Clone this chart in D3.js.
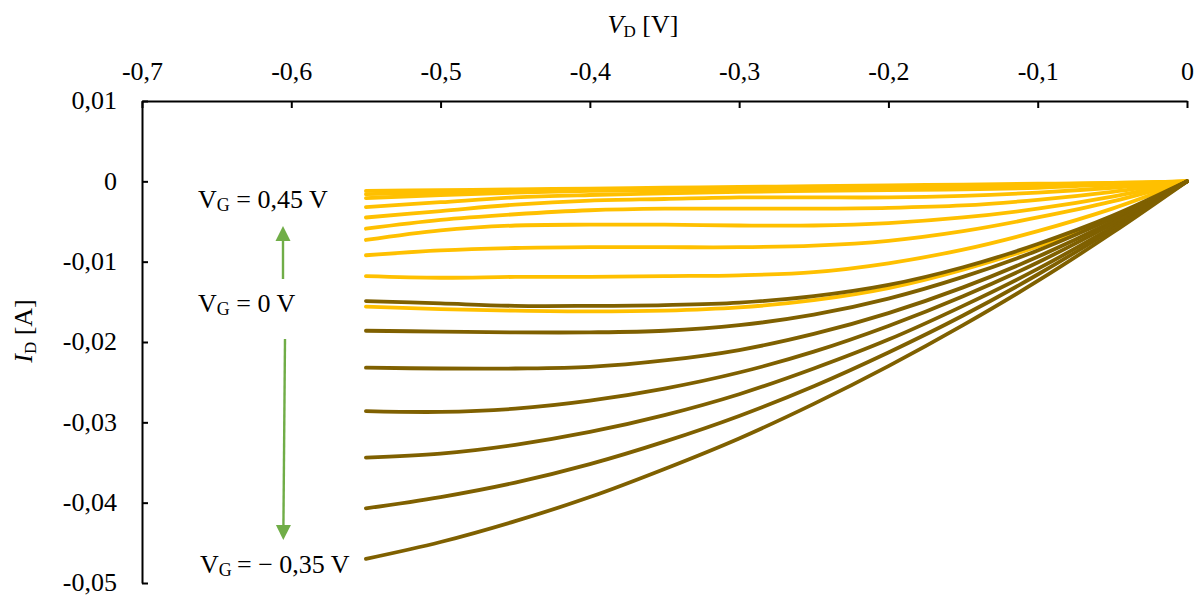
<!DOCTYPE html>
<html>
<head>
<meta charset="utf-8">
<script src="https://cdn.jsdelivr.net/npm/d3@7"></script>
<style>
  body { margin: 0; background: #fff; }
  svg { display: block; }
  text { font-family: "Liberation Serif", "Times New Roman", serif; fill: #000; }
</style>
</head>
<body>
<svg id="chart" width="1200" height="596"></svg>
<script>
// Drain voltage sweep (V)
const vd = [-0.55, -0.5, -0.45, -0.4, -0.35, -0.3, -0.25, -0.2, -0.15, -0.1, -0.05, 0];

// Drain current (A) for each gate voltage, same order as vd
const id_vg045 = [-0.0012, -0.0011, -0.0010, -0.0009, -0.0008, -0.0007, -0.0006, -0.0005, -0.0004, -0.0003, -0.0002, 0];
const id_vg040 = [-0.0016, -0.0014, -0.0012, -0.0011, -0.0010, -0.0009, -0.0008, -0.0007, -0.0006, -0.0004, -0.0002, 0];
const id_vg035 = [-0.0021, -0.0017, -0.0014, -0.0012, -0.0011, -0.0010, -0.0009, -0.0008, -0.0007, -0.0005, -0.0003, 0];
const id_vg030 = [-0.0032, -0.0026, -0.0020, -0.0017, -0.0015, -0.0013, -0.0012, -0.0011, -0.0010, -0.0008, -0.0004, 0];
const id_vg025 = [-0.0045, -0.0037, -0.0029, -0.0024, -0.0022, -0.0020, -0.0020, -0.0020, -0.0018, -0.0014, -0.0008, 0];
const id_vg020 = [-0.0059, -0.0048, -0.0041, -0.0036, -0.0034, -0.0034, -0.0034, -0.0033, -0.0030, -0.0023, -0.0013, 0];
const id_vg015 = [-0.0073, -0.0061, -0.0055, -0.0054, -0.0054, -0.0055, -0.0055, -0.0052, -0.0045, -0.0034, -0.0019, 0];
const id_vg010 = [-0.0092, -0.0086, -0.0083, -0.0082, -0.0082, -0.0082, -0.0080, -0.0074, -0.0062, -0.0045, -0.0025, 0];
const id_vg005 = [-0.0118, -0.0120, -0.0119, -0.0119, -0.0118, -0.0117, -0.0113, -0.0102, -0.0085, -0.0062, -0.0034, 0];
const id_vg000 = [-0.0156, -0.0159, -0.0161, -0.0162, -0.0161, -0.0157, -0.0148, -0.0133, -0.0110, -0.0081, -0.0044, 0];
const id_vgm005 = [-0.0149, -0.0152, -0.0155, -0.0155, -0.0154, -0.0151, -0.0143, -0.0129, -0.0107, -0.0078, -0.0043, 0];
const id_vgm010 = [-0.0186, -0.0187, -0.0188, -0.0188, -0.0186, -0.0179, -0.0166, -0.0146, -0.0119, -0.0086, -0.0046, 0];
const id_vgm015 = [-0.0232, -0.0233, -0.0233, -0.0231, -0.0223, -0.0210, -0.0190, -0.0164, -0.0132, -0.0094, -0.0050, 0];
const id_vgm020 = [-0.0286, -0.0287, -0.0283, -0.0273, -0.0258, -0.0238, -0.0212, -0.0180, -0.0143, -0.0101, -0.0053, 0];
const id_vgm025 = [-0.0344, -0.0339, -0.0328, -0.0312, -0.0291, -0.0265, -0.0233, -0.0197, -0.0155, -0.0109, -0.0057, 0];
const id_vgm030 = [-0.0407, -0.0393, -0.0375, -0.0352, -0.0324, -0.0292, -0.0255, -0.0213, -0.0167, -0.0116, -0.0060, 0];
const id_vgm035 = [-0.0470, -0.0449, -0.0423, -0.0393, -0.0358, -0.0320, -0.0277, -0.0230, -0.0179, -0.0124, -0.0064, 0];

// Gate voltages >= 0 V (light) and < 0 V (dark)
const positiveGate = [id_vg045, id_vg040, id_vg035, id_vg030, id_vg025, id_vg020, id_vg015, id_vg010, id_vg005, id_vg000];
const negativeGate = [id_vgm005, id_vgm010, id_vgm015, id_vgm020, id_vgm025, id_vgm030, id_vgm035];

const xTicks = [-0.7, -0.6, -0.5, -0.4, -0.3, -0.2, -0.1, 0];
const yTicks = [0.01, 0, -0.01, -0.02, -0.03, -0.04, -0.05];

const svg = d3.select("#chart");
const plotLeft = 142, plotRight = 1187, plotTop = 101, plotBottom = 583;

const x = d3.scaleLinear().domain([-0.7, 0]).range([plotLeft, plotRight]);
const y = d3.scaleLinear().domain([0.01, -0.05]).range([plotTop, plotBottom]);

const fmt = d => d === 0 ? "0" : String(d).replace(".", ",");

// Top axis (drain voltage)
const gx = svg.append("g")
  .attr("transform", `translate(0,${plotTop})`)
  .call(d3.axisTop(x).tickValues(xTicks).tickFormat(fmt)
    .tickSizeInner(-7).tickSizeOuter(0).tickPadding(21));

// Left axis (drain current)
const gy = svg.append("g")
  .attr("transform", `translate(${plotLeft},0)`)
  .call(d3.axisLeft(y).tickValues(yTicks).tickFormat(fmt)
    .tickSizeInner(-6).tickSizeOuter(0).tickPadding(25));

[gx, gy].forEach(g => {
  g.select(".domain").attr("stroke", "#000").attr("stroke-width", 2);
  g.selectAll(".tick line").attr("stroke", "#000").attr("stroke-width", 2);
  g.selectAll(".tick text")
    .attr("font-family", "'Liberation Serif', 'Times New Roman', serif")
    .attr("font-size", 26).attr("fill", "#000");
});
gy.selectAll(".tick text").attr("dy", "0.3em");

// Output characteristic curves
const line = d3.line()
  .x((d, i) => x(vd[i]))
  .y(d => y(d))
  .curve(d3.curveCatmullRom.alpha(0.5));

const curves = svg.append("g").attr("fill", "none")
  .attr("stroke-width", 3.8).attr("stroke-linecap", "round").attr("stroke-linejoin", "round");

curves.selectAll("path.pos").data(positiveGate).join("path")
  .attr("class", "pos").attr("stroke", "#FFC000").attr("d", line);

curves.selectAll("path.neg").data(negativeGate).join("path")
  .attr("class", "neg").attr("stroke", "#7F6000").attr("d", line);

// Axis titles
const xTitle = svg.append("text").attr("x", 643).attr("y", 33)
  .attr("text-anchor", "middle").attr("font-size", 26);
xTitle.append("tspan").attr("font-style", "italic").text("V");
xTitle.append("tspan").attr("font-size", 17).attr("dy", 4).text("D");
xTitle.append("tspan").attr("dy", -4).text(" [V]");

const yTitle = svg.append("text")
  .attr("transform", "translate(32,331) rotate(-90)")
  .attr("text-anchor", "middle").attr("font-size", 26);
yTitle.append("tspan").attr("font-style", "italic").text("I");
yTitle.append("tspan").attr("font-size", 17).attr("dy", 4).text("D");
yTitle.append("tspan").attr("dy", -4).text(" [A]");

// Gate voltage annotations
function gateLabel(xp, yp, rest) {
  const t = svg.append("text").attr("x", xp).attr("y", yp).attr("font-size", 26);
  t.append("tspan").text("V");
  t.append("tspan").attr("font-size", 18).attr("dy", 3).text("G");
  t.append("tspan").attr("dy", -3).text(rest);
}
gateLabel(198, 208, " = 0,45 V");
gateLabel(198, 311.5, " = 0 V");
gateLabel(200, 572.5, "\u2009= \u2212 0,35 V");

// Arrows showing increasing / decreasing gate voltage
const green = "#70AD47";
function arrow(x1, y1, x2, y2) {
  const ang = Math.atan2(y2 - y1, x2 - x1);
  const headLen = 15, headHalf = 7.5;
  const bx = x2 - headLen * Math.cos(ang), by = y2 - headLen * Math.sin(ang);
  svg.append("line").attr("x1", x1).attr("y1", y1).attr("x2", bx).attr("y2", by)
    .attr("stroke", green).attr("stroke-width", 2.4);
  const px = -Math.sin(ang) * headHalf, py = Math.cos(ang) * headHalf;
  svg.append("path")
    .attr("d", `M${x2},${y2}L${bx + px},${by + py}L${bx - px},${by - py}Z`)
    .attr("fill", green);
}
arrow(283, 279, 283, 226);
arrow(285, 339, 283.3, 540);
</script>
</body>
</html>
